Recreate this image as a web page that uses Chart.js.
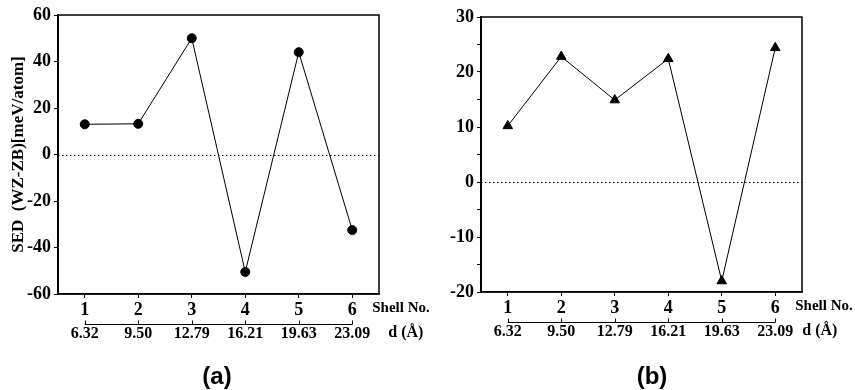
<!DOCTYPE html>
<html>
<head>
<meta charset="utf-8">
<script src="https://cdn.jsdelivr.net/npm/chart.js@4.4.0/dist/chart.umd.min.js"></script>
<style>
  body { margin: 0; background: #fff; }
  #wrap { position: relative; width: 855px; height: 390px; }
  #wrap canvas { position: absolute; top: 0; }
</style>
</head>
<body>
<div id="wrap">
  <canvas id="chartA" style="left:0px"></canvas>
  <canvas id="chartB" style="left:430px"></canvas>
</div>
<script>
var shellNo = ['1', '2', '3', '4', '5', '6'];
var dLabels = ['6.32', '9.50', '12.79', '16.21', '19.63', '23.09'];
var sedA = [13, 13.2, 50, -50.5, 44, -32.5];
var sedB = [10.2, 22.8, 14.9, 22.4, -18, 24.4];
var yRangeA = [-60, 60];
var yRangeB = [-20, 30];

var serif = "'Liberation Serif', 'Times New Roman', serif";

// box, dotted zero line, the d axis under the shell numbers and panel letter
var extras = {
    id: 'extras',
    afterDraw: function(chart, args, opts) {
        var ctx = chart.ctx;
        var area = chart.chartArea;
        var x = chart.scales.x;
        var y = chart.scales.y;
        ctx.save();

        ctx.strokeStyle = '#000';
        ctx.lineWidth = 1.5;
        ctx.strokeRect(area.left, area.top, area.right - area.left, area.bottom - area.top);

        var y0 = Math.round(y.getPixelForValue(0)) + 0.5;
        ctx.lineWidth = 1;
        ctx.setLineDash([1.5, 2.5]);
        ctx.beginPath();
        ctx.moveTo(area.left, y0);
        ctx.lineTo(area.right, y0);
        ctx.stroke();
        ctx.setLineDash([]);

        var first = x.getPixelForValue(0);
        var last = x.getPixelForValue(shellNo.length - 1);
        var lineY = area.bottom + 30.5;
        ctx.beginPath();
        ctx.moveTo(first, lineY);
        ctx.lineTo(last, lineY);
        for (var i = 0; i < dLabels.length; i++) {
            var px = Math.round(x.getPixelForValue(i)) + 0.5;
            ctx.moveTo(px, lineY);
            ctx.lineTo(px, lineY - 4);
        }
        ctx.stroke();

        ctx.fillStyle = '#000';
        ctx.font = 'bold 16px ' + serif;
        ctx.textAlign = 'center';
        ctx.textBaseline = 'middle';
        for (var j = 0; j < dLabels.length; j++) {
            ctx.fillText(dLabels[j], x.getPixelForValue(j), area.bottom + 40);
        }
        ctx.textAlign = 'left';
        ctx.font = 'bold 15px ' + serif;
        ctx.fillText('Shell No.', last + 20, area.bottom + 14);
        ctx.font = 'bold 16px ' + serif;
        ctx.fillText('d (\u00C5)', last + opts.dTitleX, area.bottom + 39);

        ctx.font = 'bold 24px "Liberation Sans", Arial, sans-serif';
        ctx.textAlign = 'center';
        ctx.fillText(opts.letter, opts.letterX, 377);
        ctx.restore();
    }
};

function makeChart(id, values, range, step, labelEvery, marker, yWidth, pad, yTitle, extraOpts) {
    var canvas = document.getElementById(id);
    canvas.width = pad.w;
    canvas.height = 390;
    return new Chart(canvas.getContext('2d'), {
        type: 'line',
        data: {
            labels: shellNo,
            datasets: [{
                data: values,
                borderColor: '#000',
                borderWidth: 1,
                backgroundColor: '#000',
                pointStyle: marker,
                pointRadius: marker === 'triangle' ? 5.5 : 4.5,
                pointBorderWidth: 1,
                tension: 0
            }]
        },
        options: {
            responsive: false,
            animation: false,
            layout: { padding: { left: 0, right: pad.right, top: pad.top, bottom: 0 } },
            plugins: {
                legend: { display: false },
                tooltip: { enabled: false },
                extras: extraOpts
            },
            scales: {
                x: {
                    type: 'category',
                    offset: true,
                    grid: { offset: false, drawOnChartArea: false, tickLength: 4, tickColor: '#000' },
                    border: { color: '#000', width: 1.5 },
                    ticks: { color: '#000', padding: 2, maxRotation: 0, font: { family: serif, size: 18, weight: 'bold' } },
                    afterFit: function(s) { s.height = pad.xHeight; }
                },
                y: {
                    min: range[0],
                    max: range[1],
                    grid: { drawOnChartArea: false, tickLength: 4, tickColor: '#000' },
                    border: { color: '#000', width: 2 },
                    ticks: {
                        stepSize: step,
                        color: '#000',
                        padding: 3,
                        font: { family: serif, size: 18, weight: 'bold' },
                        callback: function(v) { return v % labelEvery === 0 ? v : ''; }
                    },
                    title: {
                        display: !!yTitle,
                        text: yTitle,
                        color: '#000',
                        padding: { top: 8, bottom: 0 },
                        font: { family: serif, size: 17, weight: 'bold' }
                    },
                    afterFit: function(s) { s.width = yWidth; }
                }
            }
        },
        plugins: [extras]
    });
}

makeChart('chartA', sedA, yRangeA, 10, 20, 'circle', 58,
    { w: 430, right: 51, top: 15, xHeight: 96 },
    'SED  (WZ-ZB)[meV/atom]',
    { letter: '(a)', letterX: 217, dTitleX: 36 });

makeChart('chartB', sedB, yRangeB, 5, 10, 'triangle', 51,
    { w: 425, right: 53, top: 17, xHeight: 98 },
    '',
    { letter: '(b)', letterX: 222, dTitleX: 27 });
</script>
</body>
</html>
